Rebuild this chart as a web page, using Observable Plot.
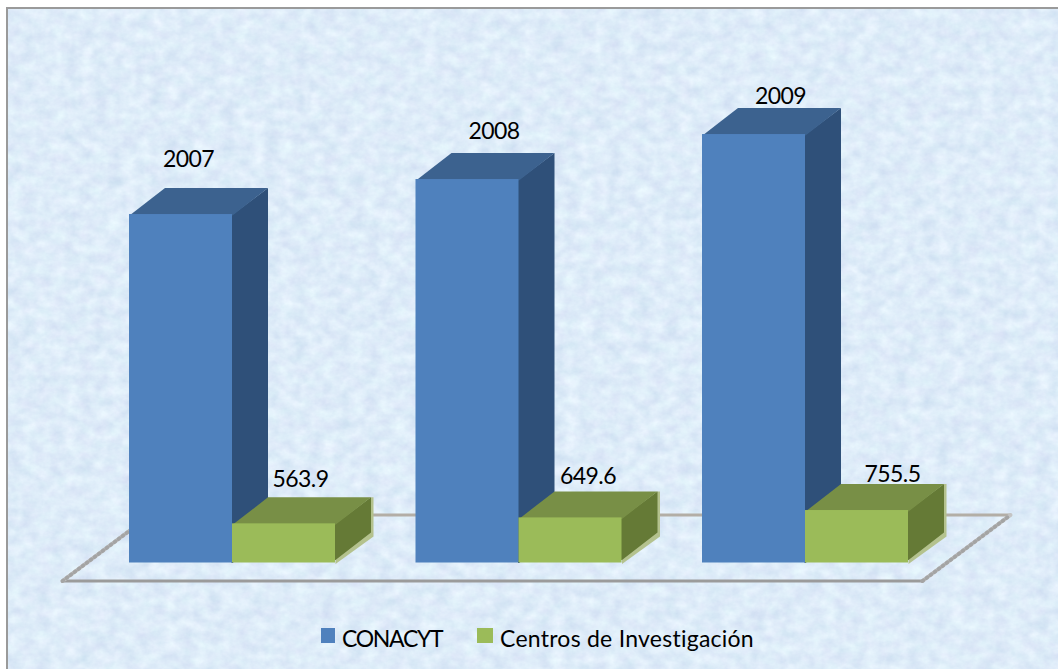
<!DOCTYPE html>
<html>
<head>
<meta charset="utf-8">
<script src="https://cdn.jsdelivr.net/npm/d3@7"></script>
<script src="https://cdn.jsdelivr.net/npm/@observablehq/plot@0.6"></script>
<style>
  html,body{margin:0;padding:0;background:#fff;font-family:Lato,sans-serif;}
  #page{position:relative;width:1058px;height:669px;overflow:hidden;}
  #frame{position:absolute;left:6px;top:7px;right:0;bottom:0;border-left:2px solid #9a9a9a;border-top:2px solid #9a9a9a;box-sizing:border-box;
    background-size:1058px 669px;}
  #chart{position:absolute;left:0;top:0;}
  #chart svg{display:block;background:transparent;}
  #legend{position:absolute;left:0;top:620px;width:1058px;height:36px;font-size:23px;color:#000;}
  #legend span{position:absolute;white-space:nowrap;line-height:34px;top:0.5px;}
  #legend i{position:absolute;top:7.5px;height:15px;}
</style>
</head>
<body>
<div id="page">
  <div id="frame"></div>
  <div id="chart"></div>
  <div id="legend"></div>
</div>
<script>
const years = ["2007", "2008", "2009"];
const seriesNames = ["CONACYT", "Centros de Investigación"];
const conacyt = [5018, 5522, 6170];
const centros = [563.9, 649.6, 755.5];
const centrosLabels = ["563.9", "649.6", "755.5"];

// Plot scale: 1 x unit = one year group, y unit = value
const pxPerX = 286.5, pxPerY = 1 / 14.4;
const xOrigin = 129, yOrigin = 562.5;
const W = 1058, H = 620;
const X = px => px / pxPerX;       // pixels -> x units
const Y = px => px / pxPerY;       // pixels -> y units
const barW = X(103), depthX = X(35.5), depthY = Y(26.5);
const overlap = X(1);

const palette = {
  blue: {front: "#4f81bd", top: "#3c628f", side: "#2f5079"},
  green: {front: "#9bbb59", top: "#788f46", side: "#657a36"}
};

const poly = (id, list) => list.map(([x, y]) => ({id, x, y}));

// Faces of each blue bar, derived from the data values
const blueTop = [], blueSide = [], blueFront = [];
years.forEach((_, i) => {
  const x0 = i, x1 = x0 + barW, v = conacyt[i];
  blueFront.push({x1: x0, x2: x1, y1: 0, y2: v});
  blueTop.push(...poly("t" + i, [[x0, v - Y(1)], [x1, v - Y(1)], [x1 + depthX, v + depthY], [x0 + depthX, v + depthY]]));
  blueSide.push(...poly("s" + i, [[x1 - overlap, 0], [x1, 0], [x1 + depthX, depthY], [x1 + depthX, v + depthY], [x1, v], [x1 - overlap, v]]));
});

// Faces of each green bar
const greenHalo = [], greenTop = [], greenSide = [], greenFront = [];
years.forEach((_, i) => {
  const x0 = i + barW, x1 = x0 + barW, v = centros[i];
  greenFront.push({x1: x0, x2: x1, y1: 0, y2: v});
  greenHalo.push(...poly("h" + i, [[x1, Y(-1)], [x1 + depthX + X(2.5), depthY], [x1 + depthX + X(2.5), v + depthY], [x1 + depthX, v + depthY], [x1, v]]));
  greenSide.push(...poly("s" + i, [[x1 - overlap, Y(3)], [x1, Y(3)], [x1 + depthX, depthY + Y(4)], [x1 + depthX, v + depthY], [x1, v], [x1 - overlap, v]]));
  greenTop.push(...poly("t" + i, [[x0, v - Y(1)], [x1, v - Y(1)], [x1 + depthX, v + depthY], [x0 + depthX, v + depthY]]));
});

// floor plate, in the same units
const fl = {l: X(62 - 129), r: X(922 - 129), lb: X(150 - 129), rb: X(1010 - 129), f: Y(562.5 - 580.5), b: Y(562.5 - 514.5)};
const floorBack = [{x: fl.lb, y: fl.b}, {x: fl.rb, y: fl.b}];
const floorFront = [{x: fl.l, y: fl.f}, {x: fl.r, y: fl.f}];
const floorLeft = [{x: fl.l, y: fl.f}, {x: fl.lb, y: fl.b}];
const floorRight = [{x: fl.r, y: fl.f}, {x: fl.rb, y: fl.b}];

// Label nudges relative to the back-top of each bar, px
const yearNudge = [[59, -28], [78, -21], [78, -11]];
const centroNudge = [[68, -18], [69, -15], [87, -9]];

const labelMarks = [
  ...years.map((t, i) => Plot.text([{x: i, y: conacyt[i] + depthY, t}], {
    x: "x", y: "y", text: "t", dx: yearNudge[i][0], dy: yearNudge[i][1], fontSize: 23, fill: "#000"
  })),
  ...centrosLabels.map((t, i) => Plot.text([{x: i + barW, y: centros[i] + depthY, t}], {
    x: "x", y: "y", text: "t", dx: centroNudge[i][0], dy: centroNudge[i][1], fontSize: 23, fill: "#000"
  }))
];

const hatch = {x: "x", y: "y", stroke: "#8a8a8a", strokeWidth: 4, strokeDasharray: "1 4", strokeOpacity: 0.55};

const plot = Plot.plot({
  width: W, height: H,
  marginLeft: 0, marginRight: 0, marginTop: 0, marginBottom: 0,
  x: {domain: [X(-xOrigin), X(W - xOrigin)], range: [0, W], axis: null},
  y: {domain: [Y(yOrigin - H), Y(yOrigin)], range: [H, 0], axis: null},
  style: {background: "transparent", fontFamily: "Lato, sans-serif", letterSpacing: "-0.6px"},
  marks: [
    Plot.line(floorBack, {x: "x", y: "y", stroke: "#b3aea6", strokeWidth: 3}),
    Plot.line(floorFront, {x: "x", y: "y", stroke: "#9b9b9b", strokeWidth: 3}),
    Plot.line(floorLeft, {x: "x", y: "y", stroke: "#c4c4c4", strokeWidth: 4}),
    Plot.line(floorLeft, hatch),
    Plot.line(floorRight, {x: "x", y: "y", stroke: "#c4c4c4", strokeWidth: 4}),
    Plot.line(floorRight, hatch),
    ...labelMarks,
    Plot.line(blueSide, {x: "x", y: "y", z: "id", fill: palette.blue.side, stroke: "none"}),
    Plot.line(blueTop, {x: "x", y: "y", z: "id", fill: palette.blue.top, stroke: "none"}),
    Plot.rect(blueFront, {x1: "x1", x2: "x2", y1: "y1", y2: "y2", fill: palette.blue.front, inset: 0}),
    Plot.line(greenHalo, {x: "x", y: "y", z: "id", fill: "#b4c28e", stroke: "none"}),
    Plot.line(greenSide, {x: "x", y: "y", z: "id", fill: palette.green.side, stroke: "none"}),
    Plot.line(greenTop, {x: "x", y: "y", z: "id", fill: palette.green.top, stroke: "none"}),
    Plot.rect(greenFront, {x1: "x1", x2: "x2", y1: "y1", y2: "y2", fill: palette.green.front, inset: 0})
  ]
});
document.getElementById("chart").append(plot);

// Legend (HTML, below the SVG)
const legend = document.getElementById("legend");
[[321, 14, 342, -1.3, palette.blue.front], [477, 16, 500, 0.25, palette.green.front]].forEach(([sx, sw, tx, ls, c], i) => {
  const s = document.createElement("i");
  s.style.left = sx + "px"; s.style.width = sw + "px"; s.style.background = c;
  const t = document.createElement("span");
  t.style.left = tx + "px"; t.style.letterSpacing = ls + "px"; t.textContent = seriesNames[i];
  legend.append(s, t);
});

// Mottled paper texture behind the chart
const texture = `<svg xmlns="http://www.w3.org/2000/svg" width="1058" height="669"><filter id="n" x="0" y="0" width="100%" height="100%" color-interpolation-filters="sRGB"><feTurbulence type="fractalNoise" baseFrequency="0.07 0.09" numOctaves="4" seed="7"/><feColorMatrix values="0.05 0.13 0 0 0.78  0 0.12 0 0 0.865  0.02 0.06 0 0 0.935  0 0 0 0 1"/></filter><rect width="1058" height="669" filter="url(#n)"/></svg>`;
document.getElementById("frame").style.backgroundImage = "url('data:image/svg+xml," + encodeURIComponent(texture) + "')";
</script>
</body>
</html>
